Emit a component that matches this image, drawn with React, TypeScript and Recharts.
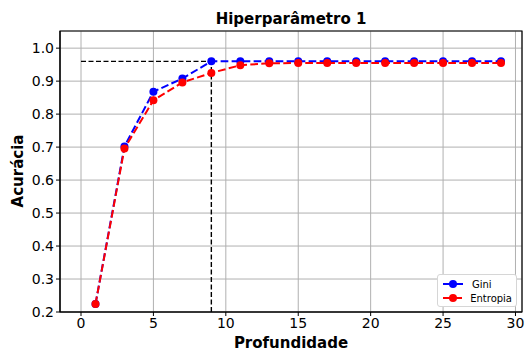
import {
  Line,
  LineChart,
  XAxis,
  YAxis,
  CartesianGrid,
  ReferenceLine,
  ReferenceArea,
} from "recharts";

const depths = [1, 3, 5, 7, 9, 11, 13, 15, 17, 19, 21, 23, 25, 27, 29];
const gini = [0.224, 0.702, 0.868, 0.908, 0.96, 0.96, 0.96, 0.96, 0.96, 0.96, 0.96, 0.96, 0.96, 0.96, 0.96];
const entropia = [0.224, 0.696, 0.842, 0.896, 0.925, 0.948, 0.954, 0.955, 0.955, 0.955, 0.955, 0.955, 0.955, 0.955, 0.955];

const xTicks = [0, 5, 10, 15, 20, 25, 30];
const yTicks = [0.2, 0.3, 0.4, 0.5, 0.6, 0.7, 0.8, 0.9, 1.0];

const bestDepth = 9;
const bestAcc = 0.96;

const X_DOMAIN: [number, number] = [-1.45, 30.45];
const Y_DOMAIN: [number, number] = [0.2, 1.052];

const data = depths.map((d, i) => ({ depth: d, gini: gini[i], entropia: entropia[i] }));

const font = "'DejaVu Sans', sans-serif";

const legendItems = [
  { name: "Gini", color: "#0000ff" },
  { name: "Entropia", color: "#ff0000" },
];

function LegendBox() {
  return (
    <div
      style={{
        position: "absolute",
        left: 437,
        top: 274,
        width: 80,
        height: 33,
        background: "white",
        border: "1px solid #d6d6d6",
        borderRadius: 3,
        boxSizing: "border-box",
        padding: "2px 4px",
        fontFamily: font,
        fontSize: 10,
      }}
    >
      {legendItems.map((it) => (
        <div key={it.name} style={{ display: "flex", alignItems: "center", height: 14 }}>
          <svg width={22} height={10}>
            <line x1={1} y1={5} x2={21} y2={5} stroke={it.color} strokeWidth={2} />
            <circle cx={11} cy={5} r={4} fill={it.color} />
          </svg>
          <span style={{ marginLeft: 8, color: "#000" }}>{it.name}</span>
        </div>
      ))}
    </div>
  );
}

const boldText = {
  position: "absolute" as const,
  fontFamily: font,
  fontWeight: "bold" as const,
  fontSize: 15,
  lineHeight: "15px",
  whiteSpace: "nowrap" as const,
};

export default function App() {
  return (
    <div style={{ position: "absolute", left: 0, top: 0, width: 526, height: 352, background: "white" }}>
      <LineChart
        width={526}
        height={352}
        data={data}
        margin={{ top: 31, right: 4, bottom: 0, left: 0 }}
      >
        <CartesianGrid stroke="#b0b0b0" strokeWidth={1} />
        <XAxis
          dataKey="depth"
          type="number"
          domain={X_DOMAIN}
          ticks={xTicks}
          allowDataOverflow
          height={40}
          tick={{ fill: "#000", fontSize: 14, fontFamily: font }}
          tickLine={{ stroke: "#000" }}
          axisLine={{ stroke: "#000" }}
          tickSize={4}
        />
        <YAxis
          type="number"
          domain={Y_DOMAIN}
          ticks={yTicks}
          allowDataOverflow
          width={60}
          tickFormatter={(v: number) => v.toFixed(1)}
          tick={{ fill: "#000", fontSize: 14, fontFamily: font }}
          tickLine={{ stroke: "#000" }}
          axisLine={{ stroke: "#000" }}
          tickSize={4}
        />
        <ReferenceArea
          x1={X_DOMAIN[0]}
          x2={X_DOMAIN[1]}
          y1={Y_DOMAIN[0]}
          y2={Y_DOMAIN[1]}
          fill="none"
          stroke="#000"
          strokeWidth={1.2}
        />
        <ReferenceLine
          segment={[{ x: 0, y: bestAcc }, { x: bestDepth, y: bestAcc }]}
          stroke="#000"
          strokeWidth={1.4}
          strokeDasharray="5 2.5"
        />
        <ReferenceLine
          segment={[{ x: bestDepth, y: Y_DOMAIN[0] }, { x: bestDepth, y: bestAcc }]}
          stroke="#000"
          strokeWidth={1.4}
          strokeDasharray="5 2.5"
        />
        <Line
          dataKey="gini"
          name="Gini"
          type="linear"
          stroke="#0000ff"
          strokeWidth={2}
          strokeDasharray="7.7 3.3"
          dot={{ r: 4, fill: "#0000ff", stroke: "#0000ff", strokeWidth: 0 }}
          isAnimationActive={false}
        />
        <Line
          dataKey="entropia"
          name="Entropia"
          type="linear"
          stroke="#ff0000"
          strokeWidth={2}
          strokeDasharray="7.7 3.3"
          dot={{ r: 4, fill: "#ff0000", stroke: "#ff0000", strokeWidth: 0 }}
          isAnimationActive={false}
        />
      </LineChart>
      <LegendBox />
      <div style={{ ...boldText, left: 60, width: 462, top: 12, textAlign: "center" }}>
        Hiperparâmetro 1
      </div>
      <div style={{ ...boldText, left: 60, width: 462, top: 336, textAlign: "center" }}>
        Profundidade
      </div>
      <div
        style={{
          ...boldText,
          left: 18,
          top: 171,
          transform: "translate(-50%, -50%) rotate(-90deg)",
        }}
      >
        Acurácia
      </div>
    </div>
  );
}
